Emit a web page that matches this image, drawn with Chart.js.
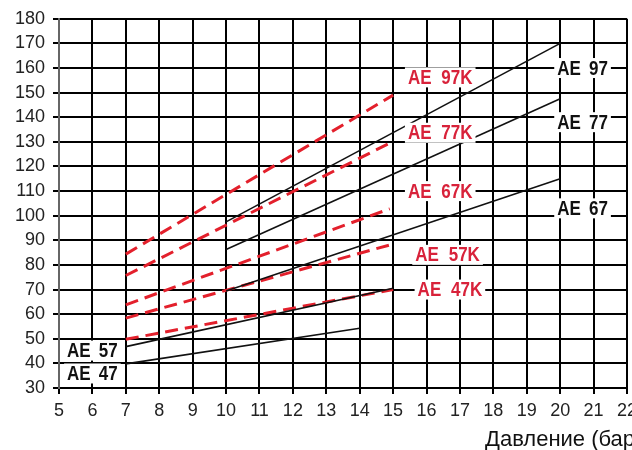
<!DOCTYPE html>
<html>
<head>
<meta charset="utf-8">
<script src="https://cdn.jsdelivr.net/npm/chart.js@4.4.1/dist/chart.umd.min.js"></script>
<style>
    html, body { margin: 0; padding: 0; background: #fff; overflow: hidden; }
    #wrap { width: 660px; height: 450px; }
</style>
</head>
<body>
<div id="wrap"><canvas id="pressureChart" width="660" height="450"></canvas></div>
<script>
// Axis ranges and title
const xRange = [5, 22];
const yRange = [30, 180];
const xTitle = 'Давление (бар)';

// Solid black lines: name, start point, end point [pressure, value]
const blackNames = ['AE 97', 'AE 77', 'AE 67', 'AE 57', 'AE 47'];
const blackFrom = [[10, 97.5], [10, 86.3], [10, 69.4], [7, 46.8], [7, 39.8]];
const blackTo = [[20, 170], [20, 147.5], [20, 115], [15, 70.5], [14, 54.3]];

// Dashed red lines
const redNames = ['AE 97K', 'AE 77K', 'AE 67K', 'AE 57K', 'AE 47K'];
const redFrom = [[7, 84.4], [7, 75.7], [7, 63.8], [7, 58.4], [7, 49.8]];
const redTo = [[15, 149], [15, 130.2], [14.9, 102.8], [15, 88.5], [15, 70]];

// Where the name tags sit (in axis units)
const blackTagAt = [[20.67, 160], [20.67, 138], [20.67, 103], [6, 45.2], [6, 35.9]];
const redTagAt = [[16.41, 156.2], [16.41, 133.7], [16.41, 110], [16.63, 84.1], [16.7, 70]];

const toPoints = (a, b) => [{ x: a[0], y: a[1] }, { x: b[0], y: b[1] }];

const datasets = [];
blackNames.forEach((name, i) => {
    datasets.push({
        label: name,
        data: toPoints(blackFrom[i], blackTo[i]),
        borderColor: '#111',
        borderWidth: 1.6,
        pointRadius: 0,
        showLine: true
    });
});
redNames.forEach((name, i) => {
    datasets.push({
        label: name,
        data: toPoints(redFrom[i], redTo[i]),
        borderColor: '#e3202c',
        borderWidth: 3,
        borderDash: [13, 7],
        pointRadius: 0,
        showLine: true
    });
});

// Draw name tags with white boxes over the grid, plus the axis title
const squeeze = 0.85; // narrow bold look
const tagPlugin = {
    id: 'tags',
    afterDatasetsDraw(chart) {
        const { ctx, scales: { x, y } } = chart;
        ctx.save();
        ctx.textAlign = 'center';
        ctx.textBaseline = 'middle';
        const drawTag = (text, at, color, gap) => {
            ctx.font = 'bold 20px "Liberation Sans", Arial, sans-serif';
            ctx.wordSpacing = gap;
            const w = ctx.measureText(text).width * squeeze;
            const px = x.getPixelForValue(at[0]);
            const py = y.getPixelForValue(at[1]);
            ctx.fillStyle = '#fff';
            ctx.fillRect(px - w / 2 - 3, py - 10, w + 6, 20);
            ctx.save();
            ctx.translate(px, py + 1);
            ctx.scale(squeeze, 1);
            ctx.fillStyle = color;
            ctx.fillText(text, 0, 0);
            ctx.restore();
        };
        blackNames.forEach((n, i) => drawTag(n, blackTagAt[i], '#111', '4px'));
        redNames.forEach((n, i) => drawTag(n, redTagAt[i], '#d8223a', '6px'));

        ctx.wordSpacing = '0px';
        ctx.font = '22px "Liberation Sans", Arial, sans-serif';
        ctx.fillStyle = '#111';
        ctx.textAlign = 'left';
        ctx.fillText(xTitle, 485, 440);
        ctx.restore();
    }
};

const ctx = document.getElementById('pressureChart').getContext('2d');
new Chart(ctx, {
    type: 'scatter',
    data: { datasets: datasets },
    options: {
        responsive: false,
        animation: false,
        layout: { padding: { top: 12, right: 33, left: 0, bottom: 0 } },
        plugins: {
            legend: { display: false },
            tooltip: { enabled: false }
        },
        scales: {
            x: {
                type: 'linear',
                min: xRange[0],
                max: xRange[1],
                ticks: {
                    stepSize: 1,
                    color: '#222',
                    padding: 6,
                    font: { family: "'Liberation Sans', Arial, sans-serif", size: 18 }
                },
                grid: { color: '#000', lineWidth: 2, tickLength: 6 },
                border: { color: '#000', width: 2 },
                afterFit: (scale) => { scale.height = 62; }
            },
            y: {
                type: 'linear',
                min: yRange[0],
                max: yRange[1],
                ticks: {
                    stepSize: 10,
                    color: '#222',
                    padding: 8,
                    font: { family: "'Liberation Sans', Arial, sans-serif", size: 18 }
                },
                grid: { color: '#000', lineWidth: 2, tickLength: 6 },
                border: { color: '#666', width: 2 },
                afterFit: (scale) => { scale.width = 59; }
            }
        }
    },
    plugins: [tagPlugin]
});
</script>
</body>
</html>
